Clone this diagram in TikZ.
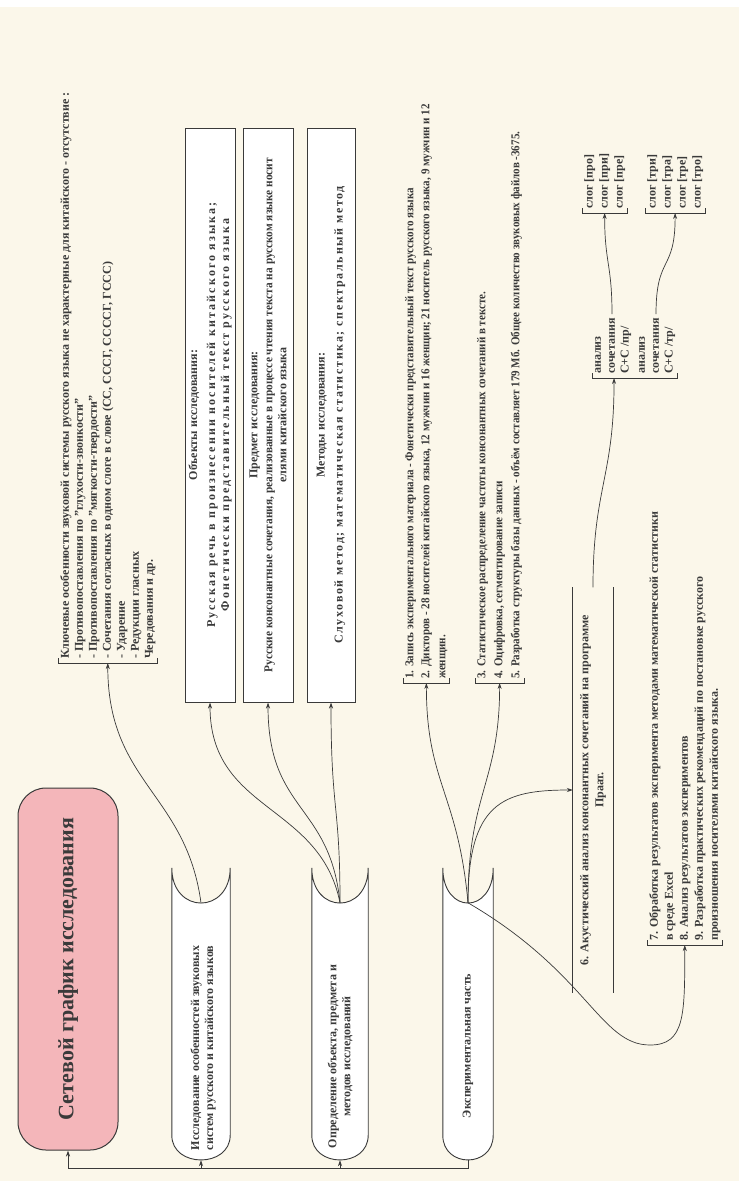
\documentclass[tikz,border=0pt]{standalone}
\usepackage{fontspec}
\setmainfont{Liberation Serif}
\usetikzlibrary{calc,arrows.meta}
\definecolor{bg}{HTML}{FBF7EA}
\definecolor{pinkfill}{HTML}{F4B6BA}
\definecolor{ln}{HTML}{3A3A3A}
\newcommand\stdshapeof[1]{%
  \filldraw[fill=white, draw=ln, line width=0.9pt]
    (#1.north east) .. controls ($(#1.north east)+(0,47)$) and ($(#1.south east)+(0,47)$) .. (#1.south east)
    -- ($(#1.south west)+(0,-25)$) .. controls ($(#1.south west)+(0,8)$) and ($(#1.north west)+(0,8)$) .. ($(#1.north west)+(0,-25)$) -- cycle;}
\newcommand\spaced[2]{{\addfontfeature{LetterSpace=#1}#2}}
\begin{document}
\begin{tikzpicture}[x=1pt,y=-1pt,
  txt/.style={rotate=90, font=\bfseries\fontsize{12}{14}\selectfont, text=ln},
  ntxt/.style={txt, inner sep=0pt},
  shp/.style={rotate=90, inner sep=0pt},
  lst/.style={txt, anchor=north west, align=left, inner xsep=4pt, inner ysep=2pt},
  lline/.style={txt, anchor=west, inner xsep=4pt, inner ysep=2pt},
  box/.style={txt, draw=ln, line width=1pt, fill=white, align=center, inner sep=2pt},
  conn/.style={draw=ln, line width=0.7pt, -{Stealth[length=6pt,width=4pt]}},
  brk/.style={draw=ln, line width=1pt},
]
\fill[bg] (0,0) rectangle (739,1181);
\fill[white] (0,0) rectangle (739,7);
\useasboundingbox (0,0) rectangle (739,1181);

% stored-data shapes
\node[shp, minimum width=292pt, minimum height=58pt] (n2) at (201,1014) {};
\node[shp, minimum width=292pt, minimum height=56pt] (n3) at (340,1014) {};
\node[shp, minimum width=292pt, minimum height=50pt] (n4) at (468,1014) {};
\stdshapeof{n2}
\stdshapeof{n3}
\stdshapeof{n4}
\node[ntxt, align=left, anchor=west] (n2l) at ($(n2.west)+(2,-10)$)
  {Исследование особенностей звуковых\\систем русского и китайского языков};
\node[ntxt, align=center, anchor=west] (n3l) at ($(n3.west)+(0,-12)$)
  {Определение объекта, предмета и\\методов исследований};
\node[ntxt, align=center, anchor=west] (n4l) at ($(n4.west)+(0,-42)$)
  {Экспериментальная часть};

\coordinate (n2top) at ($(n2.east)+(0,35)$);
\coordinate (n3top) at ($(n3.east)+(0,35)$);
\coordinate (n4top) at ($(n4.east)+(0,35)$);

% title
\node[rotate=90, draw=ln, line width=1pt, fill=pinkfill, rounded corners=28pt,
  minimum width=362pt, minimum height=100pt,
  font=\bfseries\fontsize{22}{26}\selectfont, text=ln] (title) at (68,969) {Сетевой график исследования};

% list of key features
\node[lst] (k) at (58,663) {Ключевые особенности звуковой системы русского языка не характерные для китайского - отсутствие :\\
- Противопоставления по "глухости-звонкости"\\
- Противопоставления по "мягкости-твердости"\\
- Сочетания согласных в одном слоге в слове (СС, СССГ, ССССГ, ГССС)\\
- Ударение\\
- Редукции гласных\\
Чередования и др.};
\draw[brk] ($(k.north west)+(0,-5)$) -- (k.north west) -- (k.south west) -- ($(k.south west)+(0,-5)$);

% boxes
\node[box, minimum width=574pt, minimum height=50pt] (ob) at (210,415)
  {Объекты исследования:\\[4pt]\spaced{18}{Русская речь в произнесении носителей китайского языка;}\\\spaced{18}{Фонетически представительный текст русского языка}};
\node[box, minimum width=574pt, minimum height=50pt] (pr) at (268,415)
  {Предмет исследования:\\[1pt]{\addfontfeature{FakeStretch=0.945}Русские консонантные сочетания, реализованные в процессе чтения текста на русском языке носит}\\елями китайского языка};
\node[box, minimum width=574pt, minimum height=48pt] (me) at (331,415)
  {Методы исследования:\\[4pt]\spaced{14}{Слуховой метод; математическая статистика; спектральный метод}};

% experiment lists
\node[lst, font=\bfseries\fontsize{12}{16}\selectfont\addfontfeature{FakeStretch=0.92}] (e1) at (403,683)
  {1. Запись экспериментального материала - Фонетически представительный текст русского языка\\
2. Дикторов - 28 носителей китайского языка, 12 мужчин и 16 женщин; 21 носитель русского языка, 9 мужчин и 12\\
женщин.};
\draw[brk] ($(e1.north west)+(0,-5)$) -- (e1.north west) -- (e1.south west) -- ($(e1.south west)+(0,-5)$);

\node[lst, font=\bfseries\fontsize{12}{17}\selectfont\addfontfeature{FakeStretch=0.92}] (e3) at (475,683)
  {3. Статистическое распределение частоты консонантных сочетаний в тексте.\\
4. Оцифровка, сегментирование записи\\
5. Разработка структуры базы данных - объём составляет 179 Мб. Общее количество звуковых файлов -3675.};
\draw[brk] ($(e3.north west)+(0,-5)$) -- (e3.north west) -- (e3.south west) -- ($(e3.south west)+(0,-5)$);

% acoustic analysis node
\node[ntxt, align=center, minimum width=405pt, minimum height=40pt, font=\bfseries\fontsize{12}{15}\selectfont] (n6) at (593,790)
  {6. Акустический анализ консонантных сочетаний на программе\\Праат.};
\draw[brk] (n6.north west) -- (n6.north east);
\draw[brk] (n6.south west) -- (n6.south east);

% list 7-9
\node[lst, font=\bfseries\fontsize{12}{15}\selectfont] (e7) at (647,945)
  {7. Обработка результатов эксперимента методами математической статистики\\
в среде Excel\\
8. Анализ результатов экспериментов\\
9. Разработка практических рекомендаций по постановке русского\\
произношения носителями китайского языка.};
\draw[brk] ($(e7.north west)+(0,-5)$) -- (e7.north west) -- (e7.south west) -- ($(e7.south west)+(0,-5)$);

% analysis group
\node[lline] (a1) at (598,378) {анализ};
\node[lline] (a2) at (612,378) {сочетания};
\node[lline] (a3) at (626,378) {С+С /пр/};
\node[lline] (b1) at (642,378) {анализ};
\node[lline] (b2) at (656,378) {сочетания};
\node[lline] (b3) at (670,378) {С+С /тр/};
\draw[brk] ($(a1.north west)+(0,-5)$) -- (a1.north west) -- (b3.south west) -- ($(b3.south west)+(0,-5)$);
\coordinate (abr) at ($(a1.north west)!0.25!(b3.south west)$);

% syllable lists
\node[lst, font=\bfseries\fontsize{12}{15}\selectfont] (s1) at (582,213) {слог [про]\\слог [при]\\слог [пре]};
\draw[brk] ($(s1.north west)+(0,-5)$) -- (s1.north west) -- (s1.south west) -- ($(s1.south west)+(0,-5)$);
\node[lst, font=\bfseries\fontsize{12}{15}\selectfont] (s2) at (645,213) {слог [три]\\слог [тра]\\слог [тре]\\слог [тро]};
\draw[brk] ($(s2.north west)+(0,-5)$) -- (s2.north west) -- (s2.south west) -- ($(s2.south west)+(0,-5)$);

% connectors
\draw[conn] (n2top) .. controls +(-15,-110) and +(0,120) .. (k.west);
\draw[conn] (n3top) .. controls +(-20,-100) and +(0,110) .. (ob.west);
\draw[conn] (n3top) .. controls +(-10,-100) and +(0,110) .. (pr.west);
\draw[conn] (n3top) .. controls +(0,-100) and +(0,110) .. (me.west);
\draw[conn] (n4top) .. controls +(-10,-110) and +(0,100) .. (e1.west);
\draw[conn] (n4top) .. controls +(0,-110) and +(0,100) .. (e3.west);
\draw[conn] (n4top) .. controls +(0,-100) and +(-70,0) .. (n6.north);
\draw[conn] (n4top) .. controls +(120,70) and +(-50,0) .. (650,1045) .. controls +(35,0) and +(0,70) .. (e7.west);
\draw[conn] (n6.east) .. controls +(0,-100) and +(0,100) .. (abr);
\draw[conn] (a2.east) .. controls +(0,-50) and +(0,50) .. (s1.west);
\draw[conn] (b2.east) .. controls +(0,-60) and +(0,60) .. (s2.west);

% bottom bus
\coordinate (bus) at (0,1168);
\draw[conn] (n4.west) |- (title.west |- bus) -- (title.west);
\draw[conn] (n2.west |- bus) -- (n2.west);
\draw[conn] (n3.west |- bus) -- (n3.west);
\end{tikzpicture}
\end{document}
